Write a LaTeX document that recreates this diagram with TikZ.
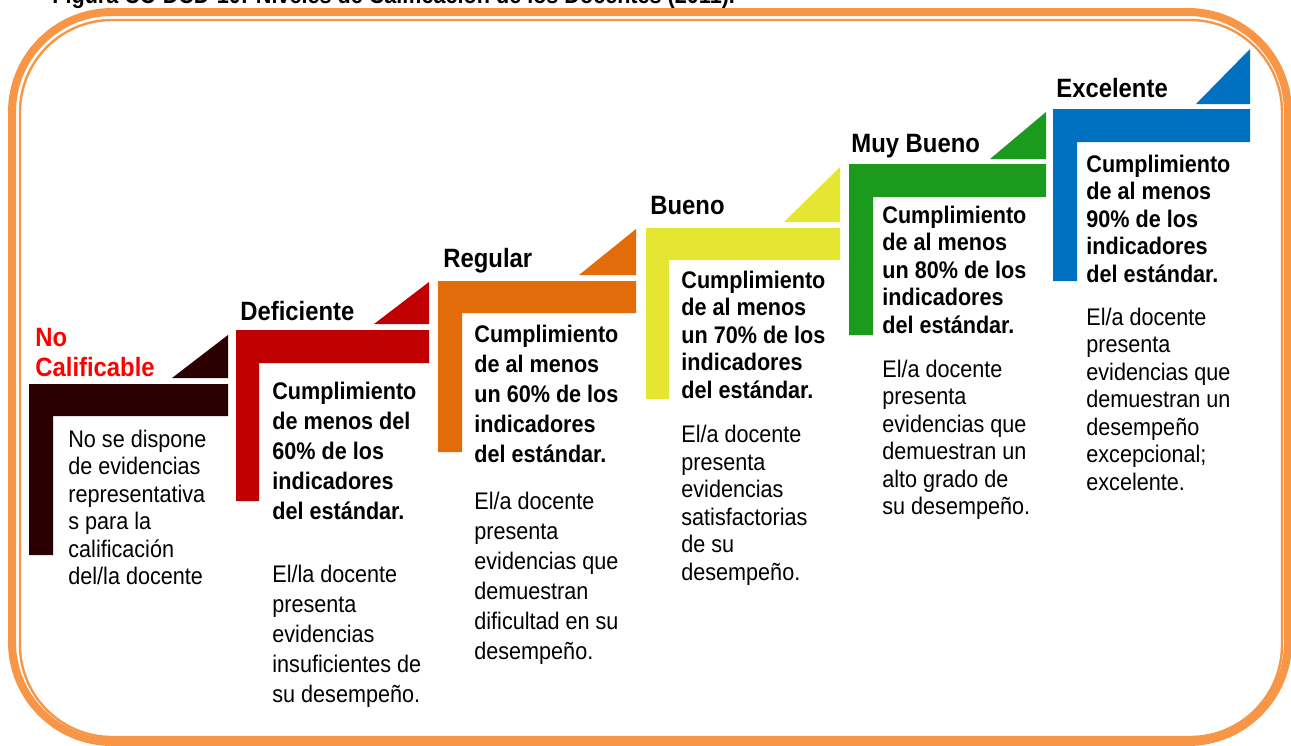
\documentclass[tikz,border=0pt]{standalone}
\usepackage{fontspec}
\setmainfont{Liberation Sans}[FakeStretch=0.9]
\definecolor{marco}{HTML}{F79646}
\definecolor{cNC}{HTML}{2A0000}
\definecolor{cD}{HTML}{C00000}
\definecolor{cR}{HTML}{E36C0A}
\definecolor{cB}{HTML}{E4E632}
\definecolor{cMB}{HTML}{1B9A1E}
\definecolor{cE}{HTML}{0070C0}
\begin{document}
\begin{tikzpicture}[x=0.5pt,y=-0.5pt,
	head/.style={anchor=base west,inner sep=0pt,align=left,font=\fontsize{13.25}{15}\selectfont\bfseries},
	crit/.style={anchor=base west,inner sep=0pt,align=left,font=\fontsize{12}{13.75}\selectfont\bfseries},
	desc/.style={anchor=base west,inner sep=0pt,align=left,font=\fontsize{12}{13.75}\selectfont}]
				\useasboundingbox (0,0) rectangle (1291,745);
				
				% marco
				\draw[marco,line width=4pt,rounded corners=50pt] (12,12) rectangle (1288,742);
				\draw[marco,line width=1.2pt,rounded corners=46pt] (20,20) rectangle (1282,737);
				\node[anchor=base west,inner sep=0pt,font=\fontsize{12}{14}\selectfont\bfseries] (T) at (52,3) {Figura CC-DCD-10: Niveles de Calificación de los Docentes (2011).};
				
				% escalones
				\fill[cNC] (29,384) -- (228,384) -- (228,416) -- (53,416) -- (53,555) -- (29,555) -- cycle;
				\fill[cNC] (172,378) -- (228,378) -- (228,335) -- cycle;
				\fill[cD] (236,330) -- (429,330) -- (429,363) -- (259,363) -- (259,501) -- (236,501) -- cycle;
				\fill[cD] (374,324) -- (429,324) -- (429,282) -- cycle;
				\fill[cR] (438,281) -- (636,281) -- (636,313) -- (462,313) -- (462,452) -- (438,452) -- cycle;
				\fill[cR] (579,275) -- (636,275) -- (636,229) -- cycle;
				\fill[cB] (646,228) -- (840,228) -- (840,260) -- (669,260) -- (669,399) -- (646,399) -- cycle;
				\fill[cB] (784,222) -- (840,222) -- (840,167) -- cycle;
				\fill[cMB] (849,164) -- (1046,164) -- (1046,197) -- (873,197) -- (873,335) -- (849,335) -- cycle;
				\fill[cMB] (990,159) -- (1046,159) -- (1046,112) -- cycle;
				\fill[cE] (1053,109) -- (1250,109) -- (1250,142) -- (1077,142) -- (1077,281) -- (1053,281) -- cycle;
				\fill[cE] (1196,104) -- (1250,104) -- (1250,49) -- cycle;
				
				% No Calificable (base = ultima linea)
				\node[head,text=red] (NCt) at (35,376) {No\\Calificable};
				\node[desc] (NCb) at (68,584.5) {No se dispone\\de evidencias\\representativa\\s para la\\calificación\\del/la docente};
				
				% Deficiente
				\node[head] (Dt) at (240,320) {Deficiente};
				\node[crit,font=\fontsize{12}{15}\selectfont\bfseries] (Da) at (272,519) {Cumplimiento\\de menos del\\60\% de los\\indicadores\\del estándar.};
				\node[desc,font=\fontsize{12}{15}\selectfont] (Db) at (272,702) {El/la docente\\presenta\\evidencias\\insuficientes de\\su desempeño.};
				
				% Regular
				\node[head] (Rt) at (443,267) {Regular};
				\node[crit,font=\fontsize{12}{15}\selectfont\bfseries] (Ra) at (474,462) {Cumplimiento\\de al menos\\un 60\% de los\\indicadores\\del estándar.};
				\node[desc,font=\fontsize{12}{15}\selectfont] (Rb) at (474,659) {El/a docente\\presenta\\evidencias que\\demuestran\\dificultad en su\\desempeño.};
				
				% Bueno
				\node[head] (Bt) at (650,214) {Bueno};
				\node[crit] (Ba) at (681,398) {Cumplimiento\\de al menos\\un 70\% de los\\indicadores\\del estándar.};
				\node[desc] (Bb) at (681,580) {El/a docente\\presenta\\evidencias\\satisfactorias\\de su\\desempeño.};
				
				% Muy Bueno
				\node[head] (MBt) at (851,152) {Muy Bueno};
				\node[crit] (MBa) at (882,333) {Cumplimiento\\de al menos\\un 80\% de los\\indicadores\\del estándar.};
				\node[desc] (MBb) at (882,514.5) {El/a docente\\presenta\\evidencias que\\demuestran un\\alto grado de\\su desempeño.};
				
				% Excelente
				\node[head] (Et) at (1056,97) {Excelente};
				\node[crit] (Ea) at (1086,282) {Cumplimiento\\de al menos\\90\% de los\\indicadores\\del estándar.};
				\node[desc] (Eb) at (1086,490) {El/a docente\\presenta\\evidencias que\\demuestran un\\desempeño\\excepcional;\\excelente.};
\end{tikzpicture}
\end{document}
